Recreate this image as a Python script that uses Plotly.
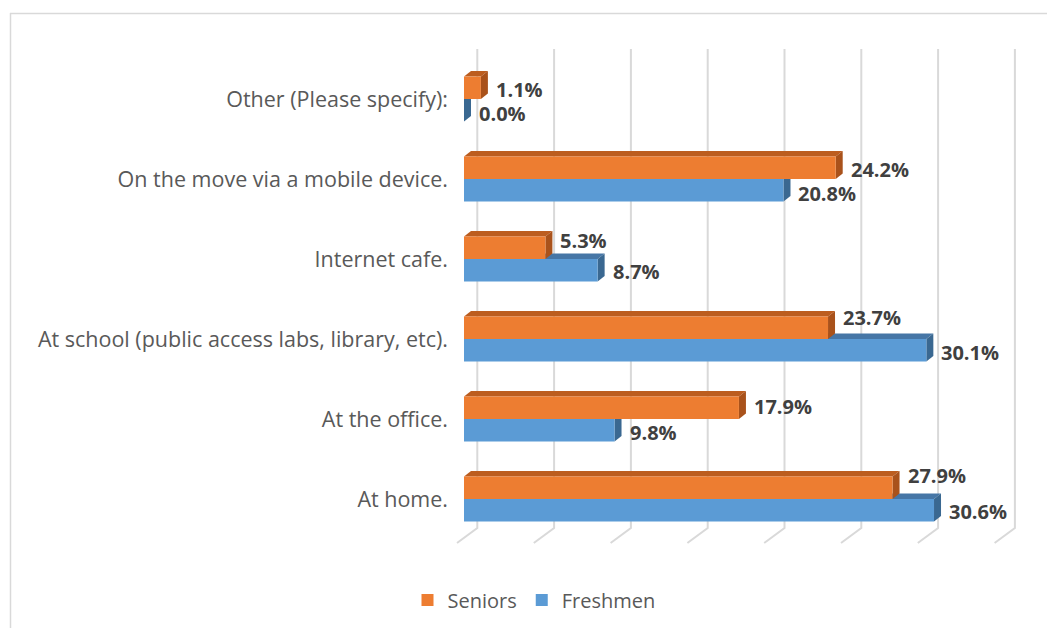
import plotly.graph_objects as go

# ---- data -------------------------------------------------------------
categories = [
    "At home.",
    "At the office.",
    "At school (public access labs, library, etc).",
    "Internet cafe.",
    "On the move via a mobile device.",
    "Other (Please specify):",
]
seniors = [27.9, 17.9, 23.7, 5.3, 24.2, 1.1]
freshmen = [30.6, 9.8, 30.1, 8.7, 20.8, 0.0]
series_names = ["Seniors", "Freshmen"]

# ---- geometry / style -------------------------------------------------
W, H = 1047, 628
PX_PER_UNIT = 15.36          # horizontal pixels per percentage point
ZERO_PX = 464                # x pixel of the value 0 on the front plane
ROW_PX = 80                  # vertical pixels between categories
ROW0_PX = 499                # y pixel of the first category centre
PLOT_L, PLOT_R = 455, 1040
PLOT_T, PLOT_B = 40, 560
BAR_W = 0.28                 # bar thickness in category units

DEPTH_X_PX, DEPTH_Y_PX = 7, 5.5            # bar depth
WALL_BACK_PX, WALL_FRONT_PX = 13.3, -7     # floor depth relative to bar face
FLOOR_DY_PX = 15
GRID_TOP_PX, GRID_BOTTOM_PX = 49, 528

ORANGE, ORANGE_TOP, ORANGE_SIDE = "#ED7D31", "#BC5D1F", "#A9521B"
BLUE, BLUE_TOP, BLUE_SIDE = "#5B9BD5", "#4676A6", "#3A6891"
GRID = "#D9D9D9"

FONT = "Open Sans"

x_range = [(PLOT_L - ZERO_PX) / PX_PER_UNIT, (PLOT_R - ZERO_PX) / PX_PER_UNIT]
y_range = [(ROW0_PX - PLOT_B) / ROW_PX, (ROW0_PX - PLOT_T) / ROW_PX]

dx = DEPTH_X_PX / PX_PER_UNIT
dy = DEPTH_Y_PX / ROW_PX

def ypix_to_data(py):
    return (ROW0_PX - py) / ROW_PX

pos = list(range(len(categories)))

fig = go.Figure()
fig.add_trace(go.Bar(
    name=series_names[0], orientation="h", x=seniors, y=pos,
    offset=0, width=BAR_W, marker=dict(color=ORANGE, line=dict(width=0)),
    hoverinfo="x+y",
))
fig.add_trace(go.Bar(
    name=series_names[1], orientation="h", x=freshmen, y=pos,
    offset=-BAR_W, width=BAR_W, marker=dict(color=BLUE, line=dict(width=0)),
    hoverinfo="x+y",
))

shapes = []

# back-wall gridlines with the floor edge running to the front
ticks = [0, 5, 10, 15, 20, 25, 30, 35]
gb = WALL_BACK_PX / PX_PER_UNIT
gf = WALL_FRONT_PX / PX_PER_UNIT
for t in ticks:
    shapes.append(dict(
        type="path", xref="x", yref="y", layer="below",
        path=(f"M {t + gb},{ypix_to_data(GRID_TOP_PX)} "
              f"L {t + gb},{ypix_to_data(GRID_BOTTOM_PX)} "
              f"L {t + gf},{ypix_to_data(GRID_BOTTOM_PX + FLOOR_DY_PX)}"),
        line=dict(color=GRID, width=2),
    ))

def faces(value, y0, y1, top_col, side_col):
    out = []
    out.append(dict(
        type="path", xref="x", yref="y", layer="below",
        path=f"M 0,{y1} L {value},{y1} L {value + dx},{y1 + dy} L {dx},{y1 + dy} Z",
        fillcolor=top_col, line=dict(width=0),
    ))
    out.append(dict(
        type="path", xref="x", yref="y", layer="below",
        path=f"M {value},{y0} L {value},{y1} L {value + dx},{y1 + dy} L {value + dx},{y0 + dy} Z",
        fillcolor=side_col, line=dict(width=0),
    ))
    return out

# freshmen faces first so the seniors bars sit on top of them
for p, v in zip(pos, freshmen):
    shapes += faces(v, p - BAR_W, p, BLUE_TOP, BLUE_SIDE)
for p, v in zip(pos, seniors):
    shapes += faces(v, p, p + BAR_W, ORANGE_TOP, ORANGE_SIDE)

# chart frame
def px_to_paper_x(px):
    return (px - PLOT_L) / (PLOT_R - PLOT_L)

def py_to_paper_y(py):
    return (PLOT_B - py) / (PLOT_B - PLOT_T)

shapes.append(dict(type="line", xref="paper", yref="paper",
                   x0=px_to_paper_x(10), x1=px_to_paper_x(W + 5),
                   y0=py_to_paper_y(13.5), y1=py_to_paper_y(13.5),
                   line=dict(color=GRID, width=1.5)))
shapes.append(dict(type="line", xref="paper", yref="paper",
                   x0=px_to_paper_x(10.5), x1=px_to_paper_x(10.5),
                   y0=py_to_paper_y(13), y1=py_to_paper_y(H + 5),
                   line=dict(color=GRID, width=1.5)))

# value labels; vertical nudges (px, up positive) keep neighbours apart
senior_nudge = [12, 1, 10, 7, -2, -2]
freshmen_nudge = [-1, -2, -2, -1, -3, -3]
annotations = []
for p, v, n in zip(pos, seniors, senior_nudge):
    annotations.append(dict(
        x=v, y=p + BAR_W / 2, xref="x", yref="y", text=f"{v:.1f}%",
        showarrow=False, xanchor="left", yanchor="middle",
        xshift=DEPTH_X_PX + 6, yshift=n,
        font=dict(family=FONT, size=20, color="#404040", weight="bold"),
    ))
for p, v, n in zip(pos, freshmen, freshmen_nudge):
    annotations.append(dict(
        x=v, y=p - BAR_W / 2, xref="x", yref="y", text=f"{v:.1f}%",
        showarrow=False, xanchor="left", yanchor="middle",
        xshift=DEPTH_X_PX + 6, yshift=n,
        font=dict(family=FONT, size=20, color="#404040", weight="bold"),
    ))

fig.update_layout(
    width=W, height=H,
    margin=dict(l=PLOT_L, r=W - PLOT_R, t=PLOT_T, b=H - PLOT_B, pad=0),
    paper_bgcolor="white", plot_bgcolor="rgba(0,0,0,0)",
    barmode="overlay",
    xaxis=dict(range=x_range, showgrid=False, zeroline=False,
               showticklabels=False, ticks="", showline=False, fixedrange=True),
    yaxis=dict(range=y_range, tickvals=pos, ticktext=categories,
               showgrid=False, zeroline=False, ticks="", showline=False,
               ticklabelstandoff=6,
               tickfont=dict(family=FONT, size=21.5, color="#595959"),
               fixedrange=True),
    shapes=shapes,
    annotations=annotations,
    showlegend=True,
    legend=dict(orientation="h", xref="container", yref="container",
                x=534 / W, y=1 - 600 / H, xanchor="center", yanchor="middle",
                traceorder="normal", itemwidth=30,
                font=dict(family=FONT, size=20, color="#595959")),
    font=dict(family=FONT),
)

fig.write_html("out.html")
